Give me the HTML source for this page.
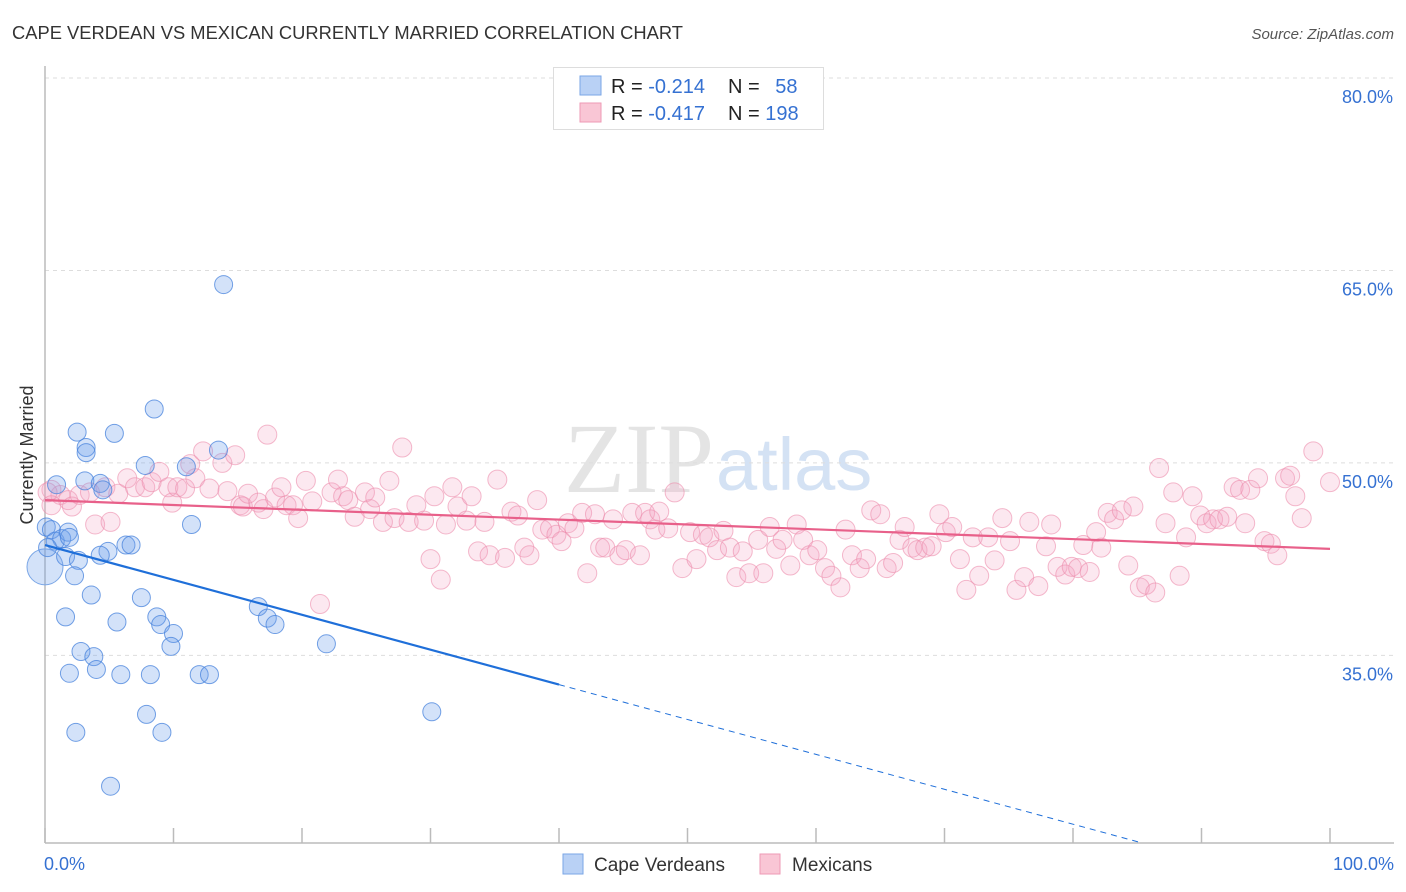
<!DOCTYPE html>
<html><head><meta charset="utf-8">
<style>
body{margin:0;background:#fff;font-family:"Liberation Sans",sans-serif;}
svg{display:block}
</style></head>
<body>
<svg id="chart" width="1406" height="892">
<text x="12" y="39" font-size="18" fill="#333" textLength="671" lengthAdjust="spacingAndGlyphs">CAPE VERDEAN VS MEXICAN CURRENTLY MARRIED CORRELATION CHART</text>
<text x="1394" y="39" font-size="15" fill="#555" text-anchor="end" font-style="italic">Source: ZipAtlas.com</text>
<text x="0" y="0" transform="translate(33,455) rotate(-90)" font-size="18" fill="#333" text-anchor="middle">Currently Married</text>
<text x="714" y="492" font-size="100" fill="#e4e4e4" text-anchor="end" font-family="Liberation Serif,serif">ZIP</text>
<text x="716" y="490" font-size="74" fill="#d4e2f4">atlas</text>
<g id="grid"></g>
<g id="axes"></g>
<g id="pts"></g>
<g id="lines"></g>
<g>
<rect x="553.5" y="67.5" width="270" height="62" fill="#fff" stroke="#ddd"/>
<rect x="580" y="76" width="21" height="19" fill="#b9d1f5" stroke="#7aa6e6"/>
<rect x="580" y="103" width="21" height="19" fill="#f9c6d5" stroke="#ee9ab5"/>
<text x="611" y="93" font-size="20" fill="#222">R = <tspan fill="#3571d2">-0.214</tspan></text>
<text x="728" y="93" font-size="20" fill="#222">N = <tspan fill="#3571d2" dx="10">58</tspan></text>
<text x="611" y="120" font-size="20" fill="#222">R = <tspan fill="#3571d2">-0.417</tspan></text>
<text x="728" y="120" font-size="20" fill="#222">N = <tspan fill="#3571d2">198</tspan></text>
</g>
<g>
<rect x="563" y="854" width="20" height="20" fill="#b9d1f5" stroke="#7aa6e6"/>
<text x="594" y="871" font-size="19" fill="#333">Cape Verdeans</text>
<rect x="760" y="854" width="20" height="20" fill="#f9c6d5" stroke="#ee9ab5"/>
<text x="792" y="871" font-size="19" fill="#333">Mexicans</text>
</g>
</svg>
<script>
const yTicks=[80,65,50,35];
const yTickLabels=["80.0%","65.0%","50.0%","35.0%"];
const xTickLabels=["0.0%","100.0%"];
const blueX=[13.9,8.5,2.5,5.4,3.2,3.2,7.8,11.0,13.5,0.9,3.1,4.3,4.5,0.1,0.5,0.8,1.3,1.8,1.9,0.2,1.6,4.9,6.3,6.7,4.3,2.6,11.4,2.3,16.6,17.3,17.9,3.6,1.6,5.6,7.5,8.7,9.0,10.0,9.8,21.9,2.8,3.8,1.9,4.0,5.9,8.2,12.0,12.8,7.9,9.1,2.4,5.1,30.1];
const blueY=[63.9,54.2,52.4,52.3,51.2,50.8,49.8,49.7,51.0,48.3,48.6,48.4,47.9,45.0,44.8,43.9,44.1,44.6,44.2,43.4,42.7,43.1,43.6,43.6,42.8,42.4,45.2,41.2,38.8,37.9,37.4,39.7,38.0,37.6,39.5,38.0,37.4,36.7,35.7,35.9,35.3,34.9,33.6,33.9,33.5,33.5,33.5,33.5,30.4,29.0,29.0,24.8,30.6];
const pinkX=[0.5,1.2,1.8,2.1,2.7,3.5,4.7,5.7,3.9,5.1,6.4,7.0,7.8,8.3,8.9,9.6,9.9,10.3,10.9,11.3,11.7,12.3,12.8,13.8,14.2,14.8,15.2,15.4,15.8,16.6,17.0,17.3,17.9,18.4,18.8,19.3,19.7,20.3,20.8,21.4,22.3,22.8,23.2,23.6,24.1,24.9,25.3,25.7,26.3,26.8,27.2,27.8,28.3,28.9,29.5,30.0,30.3,30.8,31.2,31.7,32.1,32.8,33.2,33.7,34.2,34.6,35.2,35.8,36.3,36.8,37.3,37.7,38.3,38.7,39.3,39.8,40.2,40.7,41.2,41.8,42.2,42.8,43.2,43.6,44.2,44.7,45.2,45.7,46.3,46.7,47.1,47.5,47.8,48.5,49.0,49.6,50.2,50.7,51.2,51.7,52.3,52.8,53.3,53.8,54.3,54.8,55.5,55.9,56.4,56.9,57.4,58.0,58.5,59.0,59.5,60.1,60.7,61.2,61.9,62.3,62.8,63.4,63.9,64.3,65.0,65.5,66.0,66.5,66.9,67.5,67.9,68.5,69.0,69.6,70.1,70.6,71.2,71.7,72.2,72.7,73.4,73.9,74.5,75.1,75.6,76.2,76.6,77.3,77.9,78.3,78.8,79.4,79.9,80.4,80.8,81.3,81.8,82.2,82.7,83.2,83.8,84.3,84.7,85.2,85.7,86.4,86.7,87.2,87.8,88.3,88.8,89.3,89.9,90.4,90.9,91.4,92.0,92.5,93.0,93.4,93.8,94.4,94.9,95.4,95.9,96.5,96.9,97.3,97.8,98.7,100.0,0.2,0.5];
const pinkY=[47.9,47.5,47.1,46.6,47.5,47.7,48.1,47.6,45.2,45.4,48.8,48.1,48.1,48.5,49.3,48.1,46.9,48.1,48.0,49.9,48.8,50.9,48.0,50.0,47.8,50.6,46.7,46.6,47.6,46.9,46.4,52.2,47.3,48.1,46.7,46.7,45.7,48.6,47.0,39.0,47.7,48.7,47.4,47.1,45.8,47.7,46.4,47.3,45.4,48.6,45.7,51.2,45.4,46.7,45.5,42.5,47.4,40.9,45.2,48.1,46.6,45.5,47.4,43.1,45.4,42.8,48.7,42.6,46.2,45.9,43.4,42.8,47.1,44.8,44.9,44.4,43.9,45.3,44.9,46.1,41.4,46.0,43.4,43.4,45.6,42.8,43.2,46.1,42.8,46.1,45.6,44.8,46.2,44.9,47.7,41.8,44.6,42.5,44.4,44.2,43.2,44.7,43.4,41.1,43.1,41.4,44.0,41.4,45.0,43.3,44.0,42.0,45.2,44.0,42.8,43.2,41.8,41.2,40.3,44.8,42.8,41.8,42.5,46.3,46.0,41.8,42.2,44.0,45.0,43.4,43.2,43.4,43.5,46.0,44.6,45.0,42.5,40.1,44.2,41.2,44.2,42.4,45.7,43.9,40.1,41.1,45.4,40.4,43.5,45.2,41.9,41.3,41.9,41.8,43.6,41.5,44.6,43.4,46.1,45.6,46.3,42.0,46.6,40.3,40.5,39.9,49.6,45.3,47.7,41.2,44.2,47.4,45.9,45.3,45.6,45.6,45.8,48.1,47.9,45.3,47.9,48.8,43.9,43.7,42.8,48.8,49.0,47.4,45.7,50.9,48.5,47.7,46.7];
const blueTrend=[43.6,-0.272];
const pinkTrend=[47.1,-0.038];

const NS="http://www.w3.org/2000/svg";
const X0=45,X1=1330,Y0=78,YB=843;
function sx(v){return X0+(X1-X0)*v/100;}
function sy(v){return Y0+(80-v)*12.83;}
function mk(tag,attrs,parent){const e=document.createElementNS(NS,tag);for(const k in attrs)e.setAttribute(k,attrs[k]);parent.appendChild(e);return e;}
const grid=document.getElementById('grid'),axes=document.getElementById('axes'),pts=document.getElementById('pts'),lines=document.getElementById('lines');
yTicks.forEach((t,i)=>{
  const l=mk('line',{x1:X0,x2:1394,y1:sy(t),y2:sy(t),stroke:'#ddd','stroke-dasharray':'4,4'},grid);
  
  
  const tx=mk('text',{x:1393,y:sy(t)+25,'font-size':18,fill:'#3571d2','text-anchor':'end'},axes);
  tx.textContent=yTickLabels[i];
  
  
});
const ya=mk('line',{x1:X0,x2:X0,y1:66,y2:YB,stroke:'#bbb','stroke-width':1.5},axes);


const xa=mk('line',{x1:X0,x2:1394,y1:YB,y2:YB,stroke:'#bbb','stroke-width':1.5},axes);


for(let i=0;i<=10;i++){
  const tk=mk('line',{x1:sx(i*10),x2:sx(i*10),y1:828,y2:YB,stroke:'#bbb','stroke-width':1.5},axes);
  
  
}
[[0,'start',44],[100,'end',1394]].forEach((d,i)=>{
  const t=mk('text',{x:d[2],y:870,'font-size':18,fill:'#3571d2','text-anchor':d[1]},axes);
  t.textContent=xTickLabels[i];
  
  
});
const big=mk('circle',{cx:sx(0),cy:sy(41.9),r:18,fill:'rgba(110,160,235,0.3)',stroke:'#7aa6e6'},pts);


pinkX.forEach((x,i)=>{
  const c=mk('circle',{cx:sx(x),cy:sy(pinkY[i]),r:9.5,fill:'rgba(245,165,195,0.25)',stroke:'rgba(236,140,172,0.6)','stroke-width':1},pts);
  
  
});
blueX.forEach((x,i)=>{
  const c=mk('circle',{cx:sx(x),cy:sy(blueY[i]),r:9,fill:'rgba(110,160,235,0.3)',stroke:'rgba(70,130,220,0.75)','stroke-width':1},pts);
  
  
});
const b1=mk('line',{x1:sx(0),y1:sy(blueTrend[0]),x2:sx(40),y2:sy(blueTrend[0]+blueTrend[1]*40),stroke:'#1f6fd9','stroke-width':2.2},lines);


const xe=(20.4-blueTrend[0])/blueTrend[1];
const b2=mk('line',{x1:sx(40),y1:sy(blueTrend[0]+blueTrend[1]*40),x2:sx(xe),y2:sy(20.4),stroke:'#1f6fd9','stroke-width':1,'stroke-dasharray':'6,5'},lines);


const p1=mk('line',{x1:sx(0),y1:sy(pinkTrend[0]),x2:sx(100),y2:sy(pinkTrend[0]+pinkTrend[1]*100),stroke:'#e8608a','stroke-width':2.2},lines);


</script>
</body></html>
